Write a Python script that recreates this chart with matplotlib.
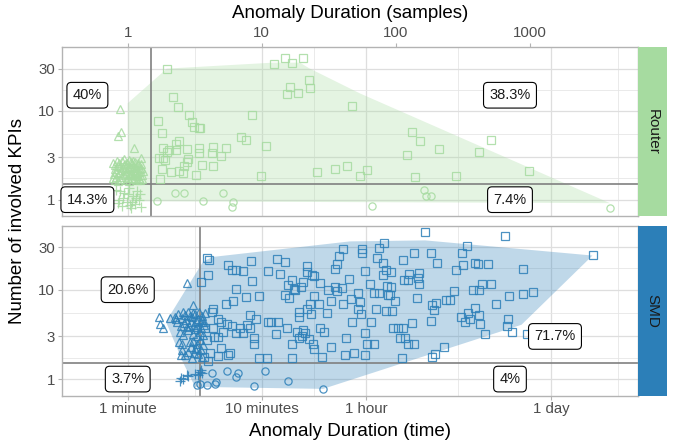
import matplotlib
matplotlib.use("Agg")
import matplotlib.pyplot as plt
from matplotlib.ticker import NullLocator

plt.rcParams['font.family'] = ['Liberation Sans', 'DejaVu Sans']

ROUTER_COLOR = "#a6dba0"
SMD_COLOR = "#2c7fb8"

# durations in minutes (1 sample = 1 minute), number of KPIs (jittered)
router_squares = [
    (1.97, 29.6), (12.3, 33.6), (14.9, 39.9), (16.9, 34.9), (20.4, 39.9), (22.6, 22.5), (23.0, 17.9),
    (16.2, 18.5), (15.4, 15.3), (18.8, 15.7), (47, 11.3), (2.19, 14.5), (2.37, 11.1), (2.88, 9.0),
    (3.02, 7.5), (3.12, 6.5), (3.39, 6.36), (3.46, 6.36), (1.69, 7.7), (1.81, 5.6), (8.5, 9.0),
    (6.97, 5.06), (7.6, 4.68), (10.7, 4.05), (2.43, 4.63), (2.29, 4.25), (1.84, 3.77), (2.02, 3.6),
    (1.98, 3.4), (2.3, 3.62), (2.75, 3.68), (3.42, 3.77), (3.39, 3.35), (4.36, 3.97), (4.28, 3.35),
    (5.43, 3.81), (4.94, 3.11), (1.72, 2.95), (1.9, 2.83), (1.84, 2.95), (2.8, 2.88), (2.77, 2.68),
    (3.56, 2.48), (4.33, 2.42), (2.63, 2.42), (1.81, 2.22), (2.09, 2.04), (2.42, 2.13), (2.57, 2.01),
    (3.25, 1.92), (1.75, 1.69), (9.9, 1.86), (25.9, 2.06), (35.0, 2.24), (43.5, 2.38), (53.9, 1.83),
    (133, 5.8), (152, 4.56), (210, 3.75), (122, 3.15), (416, 3.44), (512, 4.67), (61, 2.18),
    (140, 1.79), (284, 1.87), (984, 2.13),
]
router_circles = [
    (1.65, 0.955), (2.27, 1.2), (2.63, 1.2), (3.62, 0.955), (5.15, 1.2), (6.13, 0.945), (5.97, 0.83),
    (66.5, 0.85), (164, 1.27), (168, 1.11), (184, 1.11), (4010, 0.8),
]
router_triangles = [
    (0.88, 10.4), (0.89, 5.75), (0.84, 5.27), (1.11, 3.78), (1.26, 2.97),
    (0.78, 2.6), (0.80, 2.2), (0.82, 1.8), (0.84, 2.4), (0.86, 2.0), (0.88, 1.7), (0.90, 2.7),
    (0.92, 2.3), (0.94, 1.9), (0.96, 2.5), (0.98, 2.1), (1.00, 1.75), (1.02, 2.8), (1.04, 2.35),
    (1.06, 1.95), (1.08, 2.55), (1.10, 2.15), (1.12, 1.7), (1.14, 2.65), (1.16, 2.25), (1.18, 1.85),
    (1.20, 2.45), (1.22, 2.05), (1.24, 1.65), (1.26, 2.3), (0.79, 1.95), (0.83, 2.75), (0.87, 2.35),
    (0.91, 1.8), (0.95, 2.2), (0.99, 2.6), (1.03, 2.0), (1.07, 1.75), (1.11, 2.4), (1.15, 2.0),
    (1.19, 2.6), (1.23, 2.2), (0.81, 1.65), (0.93, 2.85), (1.05, 2.65), (1.17, 1.65), (1.28, 1.9),
    (0.78, 1.75), (0.80, 2.45), (0.85, 1.62), (0.89, 2.15), (0.97, 1.68), (1.01, 2.25), (1.09, 1.9),
    (1.13, 2.3), (1.21, 1.75), (1.25, 2.55), (1.29, 2.1), (0.86, 2.6), (0.94, 2.45), (1.02, 1.62),
    (1.10, 2.75), (1.18, 2.1), (1.27, 1.7), (0.82, 2.05), (0.97, 1.95), (1.13, 1.95),
]
router_pluses = [
    (0.82, 1.3), (0.86, 1.0), (0.90, 0.85), (0.94, 1.2), (0.98, 0.95), (1.02, 1.35), (1.06, 0.8),
    (1.10, 1.1), (1.14, 0.9), (1.18, 1.25), (1.22, 1.0), (1.26, 0.82), (0.84, 0.92), (0.92, 1.05),
    (1.00, 1.15), (1.08, 0.95), (1.16, 1.05), (1.24, 1.15), (0.88, 1.25), (1.04, 0.88),
]
router_hull = [
    (1.0, 12.2), (1.96, 29.9), (12.1, 34.9), (19.3, 34.9), (22.5, 30.3), (54.2, 15.7),
    (3973, 0.914), (1.0, 0.96),
]

smd_squares = [
    (3.9, 22.9), (4.05, 21.3), (5.65, 18.9), (5.95, 16.7), (6.4, 16.7), (7.2, 16.2), (8.35, 21.0),
    (11.2, 16.2), (3.95, 14.6), (3.5, 12.3), (8.5, 12.5), (6.45, 10.3), (7.6, 8.2), (9.6, 8.4),
    (6.1, 7.4), (5.4, 7.0), (4.35, 6.1), (4.25, 5.7), (8.2, 5.15), (9.1, 4.65), (11.2, 4.4),
    (4.75, 4.7), (4.95, 4.35), (5.5, 4.1), (6.0, 3.95), (7.7, 4.05), (6.9, 3.7), (8.2, 3.77),
    (4.3, 3.7), (5.15, 3.4), (6.4, 3.27), (7.3, 3.27), (4.4, 2.95), (4.7, 2.95), (8.8, 2.85),
    (8.7, 2.44), (5.0, 2.2), (4.1, 1.98), (5.8, 1.98), (5.65, 1.88), (4.7, 1.79), (9.5, 1.73),
    (10.9, 1.7), (4.0, 1.61), (3.75, 3.7), (3.9, 2.73), (3.7, 1.77),
    (13.1, 22.3), (14.8, 20.6), (13.7, 14.8), (21.9, 18.2), (21.9, 15.8), (23.8, 14.5), (24.5, 14.3),
    (16.8, 12.9), (15.8, 11.4), (20.4, 12.3), (19.7, 10.6), (17.4, 10.3), (17.6, 9.8), (15.0, 8.8),
    (16.1, 8.1), (27.4, 11.9), (31.5, 9.9), (35.4, 10.6), (36.3, 9.6), (39.6, 10.5), (37.9, 24.1),
    (40.1, 28.5), (36.7, 19.6), (35.1, 17.2), (45.0, 13.3), (24.7, 8.4), (22.9, 7.0), (26.8, 7.0),
    (33.0, 7.5), (40.5, 6.9), (46.0, 7.9), (52.6, 9.3), (54.5, 7.3), (52.0, 6.1), (55.0, 5.3),
    (59.5, 16.2), (64.3, 11.6), (69, 9.1), (75, 9.1), (55.7, 28.2), (56.2, 25.8), (74.6, 29.3),
    (82, 32.9), (72, 22.9), (81, 20.1), (84, 16.4), (81, 14.6), (86, 10.9), (87, 8.8), (71, 6.1),
    (84, 5.8), (21.7, 6.1), (18.9, 5.7), (19.1, 4.9), (23.3, 5.4), (30.8, 5.5), (47, 4.4),
    (65.7, 4.3), (11.7, 4.4), (13.3, 4.3), (15.5, 3.7), (12.8, 3.2), (18.3, 3.4), (20.4, 3.57),
    (20.9, 3.27), (19.9, 3.06), (27.4, 3.7), (29.4, 3.4), (22.5, 2.8), (18.9, 2.85), (16.9, 2.44),
    (24.2, 2.44), (24.5, 2.16), (33, 2.3), (42.5, 2.9), (59.5, 3.27), (61, 2.44), (69, 2.5),
    (41.5, 1.88), (48.7, 1.98), (58.7, 1.88), (16.8, 1.73), (28.1, 1.75),
    (165, 44.3), (655, 40), (343, 30.9), (137, 25.6), (184, 25.6), (312, 25.8), (113, 21.5),
    (205, 19.9), (316, 18.9), (394, 19.7), (413, 19.2), (490, 19.2), (283, 16.6), (93, 15.7),
    (126, 15.1), (148, 15.3), (146, 13.6), (115, 12.8), (123, 12.8), (148, 11.6), (92, 10.7),
    (274, 9.6), (376, 9.9), (420, 9.9), (441, 11.6), (517, 11.6), (91, 8.8), (99, 7.5), (144, 8.1),
    (237, 7.7), (254, 7.67), (201, 7.1), (188, 6.7), (192, 5.9), (563, 6.95), (698, 8.4),
    (389, 6.2), (347, 5.5), (416, 5.15), (308, 4.9), (359, 4.7), (328, 4.3), (426, 4.1), (94, 5.8),
    (132, 4.25), (184, 4.45), (95, 3.77), (104, 3.77), (113, 3.77), (462, 3.17), (690, 4.65),
    (680, 3.9), (108, 2.85), (117, 2.85), (123, 2.44), (138, 2.44), (230, 2.3), (195, 1.93),
    (188, 1.77), (111, 1.7), (2950, 24.2), (887, 17.2), (897, 8.95), (1056, 9.5), (741, 3.34),
    (963, 3.19),
]
smd_circles = [
    (4.25, 1.18), (5.47, 1.22), (6.6, 1.16), (6.45, 1.06), (10.6, 1.22), (15.6, 0.95), (28.8, 0.78),
    (3.3, 0.86), (3.88, 0.86), (4.48, 0.87), (4.58, 0.93), (8.8, 0.84), (3.46, 0.88),
]
smd_triangles = [
    (2.75, 11.9), (3.09, 6.67), (1.70, 4.89), (2.07, 4.8), (1.74, 4.11), (1.84, 3.77), (2.43, 2.62),
    (2.49, 1.85),
    (2.25, 5.0), (2.39, 5.4), (2.53, 4.8), (2.68, 5.2), (2.83, 5.6), (3.0, 4.9), (3.18, 5.3),
    (3.37, 4.7), (3.56, 5.1), (3.77, 5.5), (2.32, 4.3), (2.49, 3.9), (2.63, 4.2), (2.78, 3.8),
    (2.95, 4.4), (3.12, 4.0), (3.30, 3.85), (3.50, 4.3), (3.70, 4.0), (2.46, 3.4), (2.6, 3.1),
    (2.83, 3.5), (3.09, 3.2), (3.27, 3.0), (3.46, 3.35), (3.66, 3.1), (3.09, 2.7), (3.27, 2.5),
    (3.46, 2.75), (3.66, 2.4), (2.53, 2.1), (2.68, 1.85), (2.83, 2.0), (3.0, 1.7), (3.18, 2.15),
    (3.37, 1.9), (3.56, 1.75), (2.95, 2.3), (3.3, 2.2),
    (2.3, 4.7), (2.6, 5.6), (2.9, 5.1), (3.25, 4.5), (3.6, 4.6), (2.7, 4.6), (3.05, 5.55),
    (3.4, 5.6), (3.7, 4.4), (2.88, 3.9), (3.2, 3.6), (3.55, 3.7), (2.55, 2.5), (2.9, 2.6),
    (3.55, 2.1), (3.1, 1.95),
]
smd_pluses = [
    (2.46, 0.96), (2.75, 1.10), (3.37, 1.10), (3.46, 1.20), (3.6, 1.18), (2.8, 1.07), (2.6, 1.0),
    (3.18, 1.15), (3.5, 1.27), (2.5, 1.02),
]
smd_hull = [
    (1.93, 4.38), (3.65, 20.6), (4.26, 23.2), (45.6, 34.7), (166, 35.6), (2943, 24.1), (868, 4.05),
    (28.7, 0.777), (3.18, 0.819), (2.59, 1.53),
]

router_labels = [("40%", 0.50, 15), ("38.3%", 713, 15), ("14.3%", 0.50, 1.0), ("7.4%", 713, 1.0)]
smd_labels = [("20.6%", 1.0, 10), ("71.7%", 1545, 3.0), ("3.7%", 1.0, 1.0), ("4%", 713, 1.0)]

router_vline = 1.49
smd_vline = 3.46
kpi_hline = 1.5

x_ticks_samples = [1, 10, 100, 1000]
x_ticks_time = [1, 10, 60, 1440]
x_tick_labels_time = ["1 minute", "10 minutes", "1 hour", "1 day"]
x_minor_grid = [3.162, 24.49, 293.9, 4554]
y_ticks = [1, 3, 10, 30]
y_minor_grid = [1.732, 5.477, 17.32]

XLIM = (0.323, 6400)
YLIM = (0.655, 52)

fig = plt.figure(figsize=(6.81, 4.47), dpi=100)
ax_r = fig.add_axes([0.0910, 0.5168, 0.8454, 0.3774])
ax_s = fig.add_axes([0.0910, 0.1152, 0.8454, 0.3799])


def setup(ax):
    ax.set_xscale("log")
    ax.set_yscale("log")
    ax.set_xlim(*XLIM)
    ax.set_ylim(*YLIM)
    for g in x_ticks_time:
        ax.axvline(g, color="#dedede", lw=0.9, zorder=0)
    for g in x_minor_grid:
        ax.axvline(g, color="#e6e6e6", lw=0.6, zorder=0)
    for g in y_ticks:
        ax.axhline(g, color="#dedede", lw=0.9, zorder=0)
    for g in y_minor_grid:
        ax.axhline(g, color="#e6e6e6", lw=0.6, zorder=0)
    ax.set_yticks(y_ticks, [str(t) for t in y_ticks])
    ax.yaxis.set_minor_locator(NullLocator())
    ax.xaxis.set_minor_locator(NullLocator())
    ax.tick_params(length=3, width=0.8, color="#b3b3b3", labelcolor="#4d4d4d",
                   labelsize=10.8, pad=2)
    for s in ax.spines.values():
        s.set_color("#b3b3b3")
        s.set_linewidth(1.0)


def draw(ax, color, squares, circles, triangles, pluses, hull, vline, labels):
    hx, hy = zip(*hull)
    ax.fill(hx, hy, color=color, alpha=0.3, lw=0, zorder=1)
    ax.axvline(vline, color="#808080", lw=1.2, zorder=2)
    ax.axhline(kpi_hline, color="#808080", lw=1.2, zorder=2)
    for pts, mk, ms in [(squares, "s", 5.2), (circles, "o", 5.2), (triangles, "^", 6.2), (pluses, "+", 7.5)]:
        xs, ys = zip(*pts)
        ax.plot(xs, ys, ls="none", marker=mk, ms=ms, mfc="none", mec=color, mew=0.9, alpha=0.85, zorder=3)
    for txt, x, y in labels:
        ax.text(x, y, txt, ha="center", va="center", fontsize=10.5, color="#1a1a1a", zorder=5,
                bbox=dict(boxstyle="round,pad=0.4,rounding_size=0.3", fc="white", ec="black", lw=0.8))


setup(ax_r)
setup(ax_s)
draw(ax_r, ROUTER_COLOR, router_squares, router_circles, router_triangles, router_pluses,
     router_hull, router_vline, router_labels)
draw(ax_s, SMD_COLOR, smd_squares, smd_circles, smd_triangles, smd_pluses,
     smd_hull, smd_vline, smd_labels)

# router panel: sample axis on top, no bottom ticks
ax_r.xaxis.tick_top()
ax_r.set_xticks(x_ticks_samples, [str(t) for t in x_ticks_samples])
ax_r.xaxis.set_minor_locator(NullLocator())
ax_r.tick_params(axis="x", length=3, pad=2)

ax_s.set_xticks(x_ticks_time, x_tick_labels_time)
ax_s.xaxis.set_minor_locator(NullLocator())

# facet strips
for ax, name, color in [(ax_r, "Router", ROUTER_COLOR), (ax_s, "SMD", SMD_COLOR)]:
    pos = ax.get_position()
    sax = fig.add_axes([0.9373, pos.y0, 0.0417, pos.height])
    sax.set_facecolor(color)
    sax.set_xticks([])
    sax.set_yticks([])
    for s in sax.spines.values():
        s.set_visible(False)
    sax.text(0.5, 0.5, name, rotation=270, ha="center", va="center", fontsize=11, color="#1a1a1a",
             transform=sax.transAxes)

fig.text(0.514, 0.9687, "Anomaly Duration (samples)", ha="center", va="center", fontsize=13.5)
fig.text(0.514, 0.0336, "Anomaly Duration (time)", ha="center", va="center", fontsize=13.5)
fig.text(0.0264, 0.5056, "Number of involved KPIs", ha="center", va="center", rotation=90, fontsize=13.5)

fig.savefig("out.png", dpi=100)
